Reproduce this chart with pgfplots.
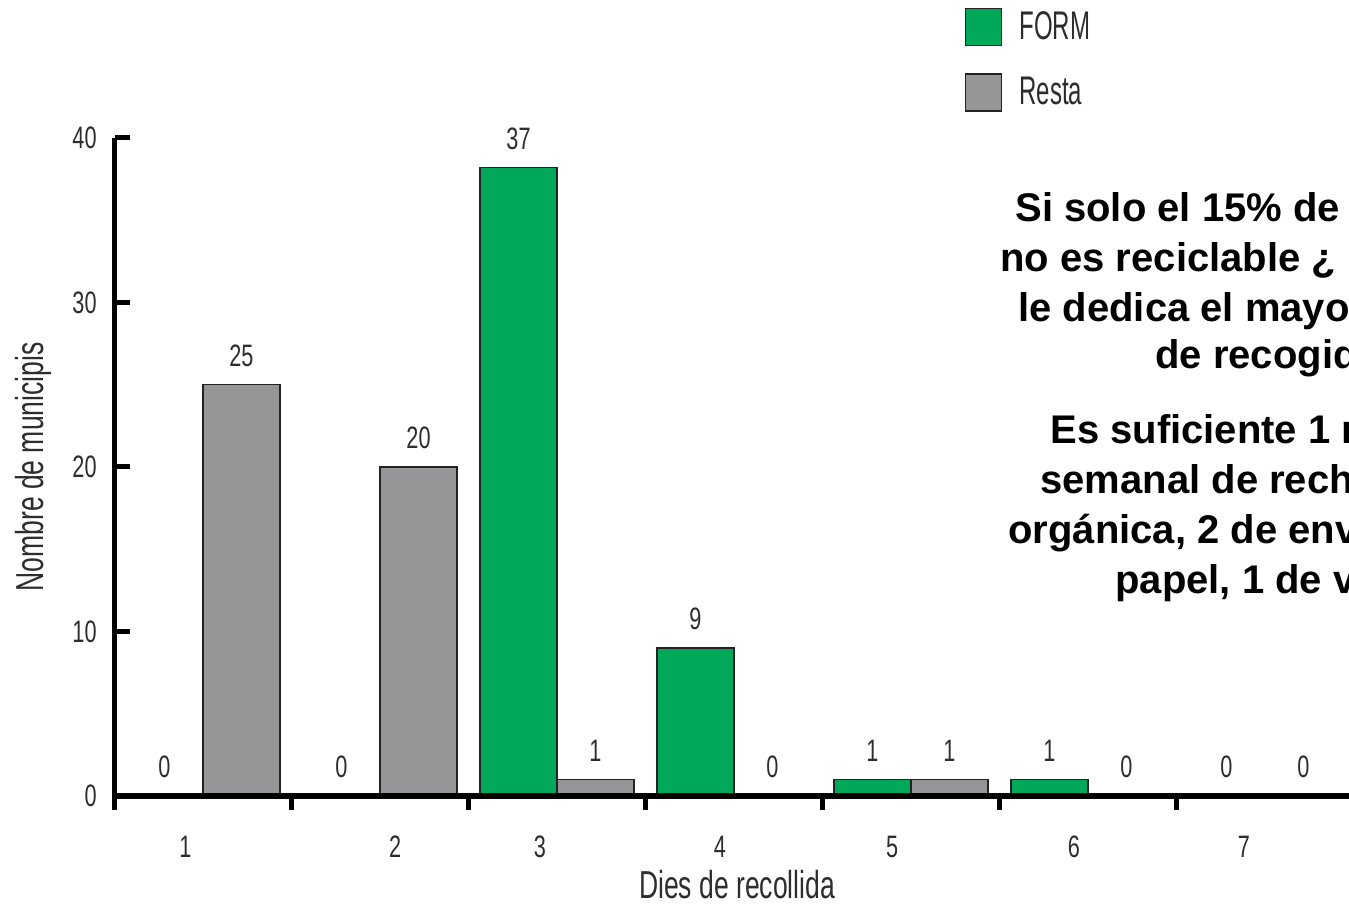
\documentclass[border=0pt]{standalone}
\usepackage{pgfplots}
\usepackage{pgfplotstable}
\pgfplotsset{compat=1.18}
\usepackage{fontspec}
\setmainfont{Liberation Sans}
\newfontfamily\condnum[FakeStretch=0.70]{Liberation Sans}
\newfontfamily\condtxt[FakeStretch=0.68]{Liberation Sans}
\newfontfamily\condleg[FakeStretch=0.60]{Liberation Sans}

\definecolor{formgreen}{RGB}{0,168,90}
\definecolor{restagray}{RGB}{150,150,153}
\definecolor{inkgray}{RGB}{45,45,45}
\definecolor{edgegray}{RGB}{35,35,35}

% group k sits on [k-1,k]; FORM left, Resta right
\pgfplotstableread{
x    form  formlab  resta  restalab
0.5  0     0        25     25
1.5  0     0        20     20
2.5  38.2  37       1      1
3.5  9     9        0      0
4.5  1     1        1      1
5.5  1     1        0      0
6.5  0     0        0      0
}\recollida

\begin{document}
\begin{tikzpicture}
\useasboundingbox (0,0) rectangle (674.5bp,453.5bp);
\clip (0,0) rectangle (674.5bp,453.5bp);

\begin{axis}[
at={(57.25bp,55.5bp)}, anchor=south west,
x=88.5bp, y=8.225bp,
xmin=0, xmax=7, ymin=0, ymax=40,
clip=false,
axis on top,
axis x line=bottom, axis y line=left,
axis line style={-, line width=2.5bp, black},
ybar=0pt, bar width=38.5bp,
tick align=outside,
major tick length=7.5bp,
minor tick length=7bp,
ytick={0,10,20,30,40},
yticklabels={0,10,20,30,40},
ytick style={line width=2.5bp, black, xshift=7.5bp},
xtick={0.40,1.585,2.404,3.42,4.393,5.421,6.381},
xticklabels={1,2,3,4,5,6,7},
major x tick style={draw=none},
minor xtick={0,1,...,7},
minor x tick style={line width=2.5bp, black},
yticklabel style={font=\fontsize{15.5bp}{18bp}\condnum, text=inkgray, anchor=east, inner sep=0pt, xshift=-1.25bp},
xticklabel style={font=\fontsize{15.5bp}{18bp}\condnum, text=inkgray, anchor=center, inner sep=0pt, yshift=-17.75bp},
xlabel={Dies de recollida},
ylabel={Nombre de municipis},
xlabel style={font=\fontsize{19.5bp}{22bp}\condtxt, text=inkgray, inner sep=0pt, anchor=center, at={(axis description cs:0.5025,-0.134)}},
ylabel style={font=\fontsize{19.5bp}{22bp}\condtxt, text=inkgray, inner sep=0pt, anchor=center, at={(axis description cs:-0.0658,0.5)}},
nodes near coords style={font=\fontsize{15.5bp}{18bp}\condnum, text=inkgray, anchor=south, inner sep=0pt, yshift=8.5bp},
legend image code/.code={\draw[#1] (0bp,-9.25bp) rectangle (18bp,9.25bp);},
legend style={at={(axis description cs:0.6864,1.1976)}, anchor=north west, draw=none, fill=none,
  inner sep=0pt, outer sep=0pt, row sep=13.5bp, column sep=8.5bp,
  font=\fontsize{20bp}{22bp}\condleg, text=inkgray, nodes={inner sep=0pt}},
legend cell align=left,
]
\addplot[fill=formgreen, draw=edgegray, line width=0.75bp,
  point meta=explicit symbolic, nodes near coords]
  table[x=x, y=form, meta=formlab] {\recollida};
\addlegendentry{FORM}
\addplot[fill=restagray, draw=edgegray, line width=0.75bp,
  point meta=explicit symbolic, nodes near coords]
  table[x=x, y=resta, meta=restalab] {\recollida};
\addlegendentry{Resta}
\end{axis}

% overlaid note, cut by the right edge as in the reference
\begin{scope}[every node/.style={anchor=base west, inner sep=0pt, font=\fontsize{20bp}{24bp}\bfseries}]
\node at (507.5bp,342.5bp) {Si solo el 15\% de};
\node at (500bp,317.5bp) {no es reciclable ¿};
\node at (509bp,292.5bp) {le dedica el mayo};
\node at (577.5bp,269bp) {de recogid};
\node at (525bp,231.5bp) {Es suficiente 1 r};
\node at (520bp,206.5bp) {semanal de rech};
\node at (504bp,181.5bp) {orgánica, 2 de env};
\node at (557.5bp,156.5bp) {papel, 1 de v};
\end{scope}
\end{tikzpicture}
\end{document}
